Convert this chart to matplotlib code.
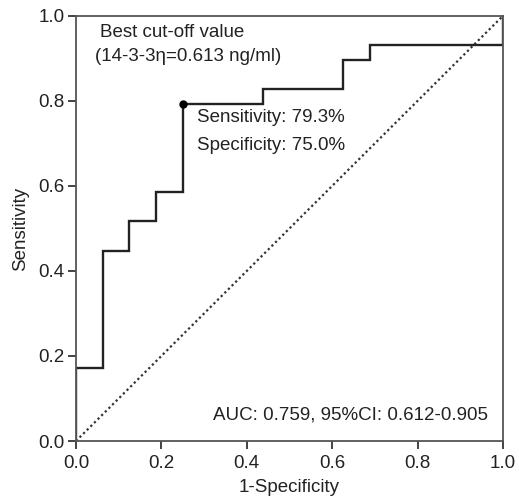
import matplotlib
matplotlib.use("Agg")
import matplotlib.pyplot as plt

plt.rcParams['font.family'] = ['Liberation Sans', 'DejaVu Sans']

# ROC step points (1-specificity, sensitivity)
fpr = [0.0, 0.0, 0.0625, 0.0625, 0.125, 0.125, 0.1875, 0.1875, 0.25, 0.25, 0.4375, 0.4375, 0.625, 0.625, 0.6875, 0.6875, 1.0, 1.0]
tpr = [0.0, 0.172, 0.172, 0.448, 0.448, 0.517, 0.517, 0.586, 0.586, 0.793, 0.793, 0.828, 0.828, 0.897, 0.897, 0.931, 0.931, 1.0]
cut_point = (0.25, 0.793)
ticks = [0.0, 0.2, 0.4, 0.6, 0.8, 1.0]
tick_labels = ["0.0", "0.2", "0.4", "0.6", "0.8", "1.0"]

fig = plt.figure(figsize=(5.19, 4.99), dpi=100)
ax = fig.add_axes([0.1464, 0.1162, 0.8227, 0.852])

ax.plot([0, 1], [0, 1], color='#333333', linestyle=(0, (1, 1.3)), linewidth=1.6)
ax.plot(fpr, tpr, color='#222222', linewidth=1.7, solid_joinstyle='miter')
ax.plot([cut_point[0]], [cut_point[1]], 'o', color='black', markersize=5)

ax.set_xlim(0, 1)
ax.set_ylim(0, 1)
ax.set_xticks(ticks)
ax.set_xticklabels(tick_labels)
ax.set_yticks(ticks)
ax.set_yticklabels(tick_labels)
ax.tick_params(direction='out', length=6, width=1.2, labelsize=13.5, colors='#222222', pad=2)
ax.tick_params(axis='x', pad=4)
for s in ax.spines.values():
    s.set_linewidth(1.3)
    s.set_color('#555555')

ax.set_xlabel("1-Specificity", fontsize=13.5, labelpad=5, color='#222222')
ax.set_ylabel("Sensitivity", fontsize=13.5, labelpad=7, color='#222222')

fs = 13.5
tc = '#222222'
ax.text(0.057, 0.96, "Best cut-off value", fontsize=fs, transform=ax.transAxes, va='center', ha='left', color=tc)
ax.text(0.045, 0.904, "(14-3-3\u03b7=0.613 ng/ml)", fontsize=fs, transform=ax.transAxes, va='center', ha='left', color=tc)
ax.text(0.284, 0.76, "Sensitivity: 79.3%", fontsize=fs, transform=ax.transAxes, va='center', ha='left', color=tc)
ax.text(0.284, 0.694, "Specificity: 75.0%", fontsize=fs, transform=ax.transAxes, va='center', ha='left', color=tc)
ax.text(0.965, 0.061, "AUC: 0.759, 95%CI: 0.612-0.905", fontsize=fs, transform=ax.transAxes, va='center', ha='right', color=tc)

fig.savefig("out.png", dpi=100)
